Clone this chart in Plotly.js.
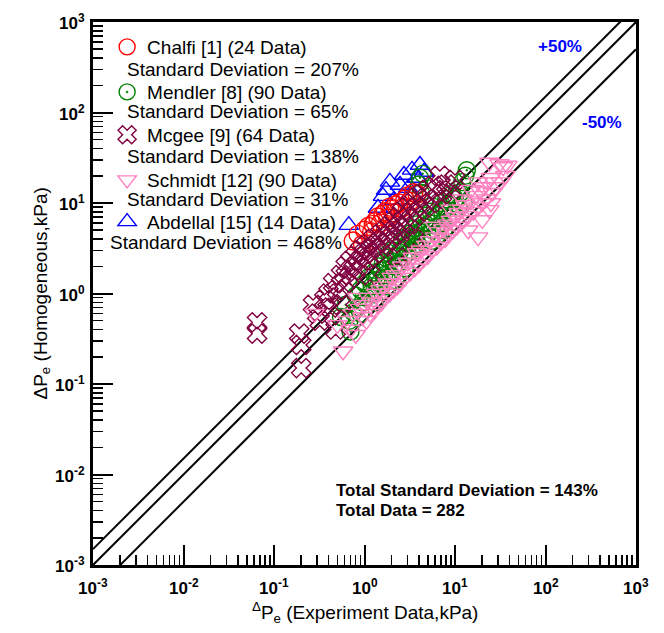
<!DOCTYPE html>
<html>
<head>
<meta charset="utf-8">
<script src="https://cdn.plot.ly/plotly-3.0.1.min.js"></script>
<style>html,body{margin:0;padding:0;background:#fff;}#chart{width:664px;height:633px;}</style>
</head>
<body>
<div id="chart"></div>
<script>
// ---- data ----
const chalfiX = [0.75,0.85,0.95,1.0,1.1,1.2,1.3,1.4,1.5,1.6,1.7,1.8,1.9,2.0,2.2,2.4,2.6,2.8,3.0,3.2,3.5,3.8,1.25,2.1];
const chalfiY = [3.8,4.5,3.5,5.0,5.5,4.8,6.2,7.0,6.0,7.5,8.0,6.8,9.0,8.5,9.5,10.0,8.8,11,12,10.5,13,12.5,5.8,7.8];

const mendlerX = [0.55,0.62,0.7,0.68,0.75,0.8,0.85,0.9,0.95,1.0,
  1.05,1.1,1.15,1.2,1.25,1.3,1.35,1.4,1.45,1.5,
  1.55,1.6,1.65,1.7,1.75,1.8,1.85,1.9,1.95,2.0,
  2.1,2.2,2.3,2.4,2.5,2.6,2.7,2.8,2.9,3.0,
  3.1,3.2,3.3,3.4,3.5,3.6,3.7,3.8,3.9,4.0,
  4.2,4.4,4.6,4.8,5.0,5.2,5.4,5.6,5.8,6.0,
  6.3,6.6,7.0,7.3,7.6,8.0,8.4,8.8,9.2,9.6,
  10.0,10.5,11.0,11.5,12.0,12.5,13.0,13.5,4.1,4.4,
  4.2,4.0,2.2,2.8,1.3,1.8,0.9,5.5,6.5,7.5];
const mendlerY = [0.55,0.75,0.38,0.5,0.62,0.95,0.7,1.1,0.8,1.3,
  0.9,1.5,1.0,1.2,1.7,1.1,1.4,2.0,1.3,1.8,
  1.2,2.2,1.6,2.5,1.5,2.0,2.8,1.7,2.3,3.0,
  2.0,2.6,3.2,2.2,3.0,3.8,2.5,3.4,4.2,2.8,
  3.6,4.6,3.0,4.0,5.2,3.3,4.4,5.8,3.5,4.8,
  6.5,4.0,5.5,7.2,4.5,6.0,8.0,5.0,6.6,9.0,
  5.5,7.5,10.0,6.0,8.5,11.0,6.8,9.5,12.5,7.5,
  11.0,14.0,9.0,13.0,17.0,10.0,20.0,23.0,19.0,21.0,
  13.0,16.0,1.4,1.9,0.8,1.2,0.6,3.8,4.5,5.0];

const mcgeeX = [0.065,0.065,0.19,0.2,0.2,0.27,0.3,0.32,0.36,0.4,
  0.42,0.45,0.48,0.5,0.55,0.6,0.62,0.68,0.7,0.75,
  0.8,0.85,0.9,0.95,1.0,1.05,1.1,1.2,1.25,1.3,
  1.4,1.5,1.6,1.7,1.8,1.9,2.0,2.1,2.2,2.4,
  2.5,2.6,2.8,3.0,3.2,3.4,3.6,3.8,4.0,4.3,
  4.6,5.0,5.4,5.8,6.2,6.8,7.2,8.0,9.0,10.0,
  1.15,0.55,2.3,3.5];
const mcgeeY = [0.48,0.36,0.36,0.27,0.15,0.75,0.6,0.5,0.85,1.0,
  0.7,1.3,0.4,1.1,1.6,1.3,2.0,1.5,2.3,1.8,
  2.6,2.0,3.0,2.3,2.8,3.4,2.5,3.2,4.0,2.8,
  3.6,4.5,3.3,5.0,3.8,5.6,4.2,6.2,4.6,7.0,
  5.0,8.0,5.6,9.0,6.4,10.0,7.2,11.5,8.0,12.5,
  9.0,14.0,10.0,15.5,11.0,20.0,12.5,16.0,14.0,18.0,
  1.6,0.75,2.5,4.0];

const schmidtX = [0.28,0.58,0.83,0.89,0.5,0.65,0.7,0.75,0.8,0.95,
  1.0,1.05,1.1,1.15,1.2,1.3,1.35,1.4,1.5,1.55,
  1.6,1.7,1.8,1.9,2.0,2.1,2.2,2.3,2.4,2.5,
  2.6,2.8,3.0,3.2,3.4,3.6,3.8,4.0,4.2,4.5,
  4.8,5.0,5.3,5.6,6.0,6.3,6.6,7.0,7.4,7.8,
  8.2,8.6,9.0,9.5,10.0,10.5,11.0,11.5,12.0,12.5,
  13.0,14.0,15.0,16.0,17.0,18.0,19.0,20.0,21.0,22.0,
  23.0,24.0,25.0,26.0,24.0,28.0,31.0,32.0,34.0,36.0,
  38.0,15.0,18.0,12.0,9.0,6.0,20.0,14.0,25.0,18.0];
const schmidtY = [0.6,0.23,0.9,0.68,0.45,0.5,0.4,0.6,0.35,0.55,
  0.75,0.5,0.9,0.6,0.8,0.65,1.0,0.75,1.1,0.8,
  1.2,0.9,1.3,1.0,1.5,1.1,1.6,1.2,1.8,1.3,
  2.0,1.5,2.2,1.7,2.5,1.9,2.8,2.1,3.0,2.4,
  3.4,2.6,3.8,3.0,4.2,3.3,4.8,3.7,5.2,4.0,
  5.8,4.5,6.4,5.0,7.0,5.5,7.8,6.0,8.5,6.5,
  9.5,7.2,10.5,8.0,12.0,9.0,13.5,10.0,15.0,11.0,
  17.0,8.4,19.0,13.0,28.0,15.0,27.0,17.0,25.0,20.0,
  26.0,14.0,17.0,11.0,8.5,5.5,6.5,5.0,10.0,4.2];

const abdellalX = [0.67,1.41,1.60,1.73,1.91,2.12,2.47,2.73,3.03,3.35,3.80,4.10,4.54,3.18];
const abdellalY = [5.7,8.8,11.9,13.9,17.1,10.8,15.8,20.4,14.6,23.2,18.9,26.3,22.0,12.3];

const seriesNames = ["Chalfi [1] (24 Data)","Mendler [8] (90 Data)","Mcgee [9] (64 Data)","Schmidt [12] (90 Data)","Abdellal [15] (14 Data)"];
const sdLabels = ["Standard Deviation = 207%","Standard Deviation = 65%","Standard Deviation = 138%","Standard Deviation = 31%","Standard Deviation = 468%"];
const refX = [0.001, 1000];
const refFactors = [1.5, 1, 0.5];
const bandLabels = ["+50%","-50%"];
const totalLabels = ["Total Standard Deviation = 143%","Total Data = 282"];
const tickExp = [-3,-2,-1,0,1,2,3];
const xTitle = "<sup>Δ</sup>P<sub>e</sub> (Experiment Data,kPa)";
const yTitle = "ΔP<sub>e</sub> (Homogeneous,kPa)";

// ---- plot ----
const FONT = "Liberation Sans, Arial, sans-serif";
const traces = [];
refFactors.forEach(f => {
  traces.push({x: refX, y: refX.map(v => v*f), mode:'lines', line:{color:'#000', width:2}, showlegend:false, hoverinfo:'skip'});
});
function sc(x,y,name,sym,color,size,leg,rank){
  return {x:x, y:y, name:name, mode:'markers', type:'scatter', legend:leg, legendrank:rank,
    marker:{symbol:sym, size:size, color:color, line:{color:color, width:1.4}}};
}
traces.push(sc(abdellalX,abdellalY,seriesNames[4],'triangle-up-open','#0000ff',17,'legend5',5));
traces.push(sc(mendlerX,mendlerY,seriesNames[1],'circle-open-dot','#008000',17,'legend2',2));
traces.push(sc(chalfiX,chalfiY,seriesNames[0],'circle-open','#ff0000',18,'legend',1));
traces.push(sc(mcgeeX,mcgeeY,seriesNames[2],'x-open','#800040',17,'legend3',3));
traces.push(sc(schmidtX,schmidtY,seriesNames[3],'triangle-down-open','#ff80c0',17,'legend4',4));

function leg(y){
  return {x:0.026, y:y, xanchor:'left', yanchor:'middle', bgcolor:'rgba(0,0,0,0)', borderwidth:0,
    font:{family:FONT, size:19, color:'#000'}};
}
const sdY = [0.9134,0.8343,0.7514,0.6740,0.5948];
const sdX = [0.0589,0.0589,0.0589,0.0589,0.0276];
const annotations = sdLabels.map((t,i)=>({xref:'paper', yref:'paper', x:sdX[i], y:sdY[i], xanchor:'left', yanchor:'middle',
  text:t, showarrow:false, font:{family:FONT, size:19, color:'#000'}}));
annotations.push({xref:'paper', yref:'paper', x:(560-93)/543, y:(565-46)/543, xanchor:'center', yanchor:'middle', text:'<b>'+bandLabels[0]+'</b>', showarrow:false, font:{family:FONT,size:17,color:'#0000ff'}});
annotations.push({xref:'paper', yref:'paper', x:(602-93)/543, y:(565-123)/543, xanchor:'center', yanchor:'middle', text:'<b>'+bandLabels[1]+'</b>', showarrow:false, font:{family:FONT,size:17,color:'#0000ff'}});
annotations.push({xref:'paper', yref:'paper', x:(334-93)/543, y:(565-490)/543, xanchor:'left', yanchor:'middle', text:'<b>'+totalLabels[0]+'</b>', showarrow:false, font:{family:FONT,size:17,color:'#000'}});
annotations.push({xref:'paper', yref:'paper', x:(334-93)/543, y:(565-510)/543, xanchor:'left', yanchor:'middle', text:'<b>'+totalLabels[1]+'</b>', showarrow:false, font:{family:FONT,size:17,color:'#000'}});
// tick labels (log axes: annotation coordinates are log10 values)
tickExp.forEach(e => {
  const lab = '<b>10<sup>' + e + '</sup></b>';
  annotations.push({xref:'x', yref:'paper', x:e, y:(565-574)/543, xanchor:'center', yanchor:'top', text:lab, showarrow:false, font:{family:FONT,size:17,color:'#000'}});
  annotations.push({xref:'paper', yref:'y', x:(87-93)/543, y:e, xanchor:'right', yanchor:'middle', text:lab, showarrow:false, font:{family:FONT,size:17,color:'#000'}});
});
annotations.push({xref:'paper', yref:'paper', x:0.5, y:(565-612)/543, xanchor:'center', yanchor:'middle', text:xTitle, showarrow:false, font:{family:FONT,size:19,color:'#000'}});
annotations.push({xref:'paper', yref:'paper', x:(41-93)/543, y:0.5, xanchor:'center', yanchor:'middle', textangle:-90, text:yTitle, showarrow:false, font:{family:FONT,size:19,color:'#000'}});

function axis(){
  return {type:'log', range:[-3,3], showgrid:false, zeroline:false,
    showline:true, mirror:true, linecolor:'#000', linewidth:3,
    ticks:'inside', ticklen:20, tickwidth:2, tickcolor:'#000', dtick:1,
    showticklabels:false,
    minor:{ticks:'inside', ticklen:10, tickwidth:1.5, tickcolor:'#000', dtick:'D1', showgrid:false}};
}
const layout = {
  width:664, height:633, margin:{l:93, r:28, t:22, b:68},
  paper_bgcolor:'#fff', plot_bgcolor:'#fff',
  xaxis: axis(),
  yaxis: axis(),
  showlegend:true,
  legend: leg(0.954), legend2: leg(0.871), legend3: leg(0.792), legend4: leg(0.709), legend5: leg(0.632),
  annotations: annotations
};
Plotly.newPlot('chart', traces, layout, {displayModeBar:false, staticPlot:true});
</script>
</body>
</html>
